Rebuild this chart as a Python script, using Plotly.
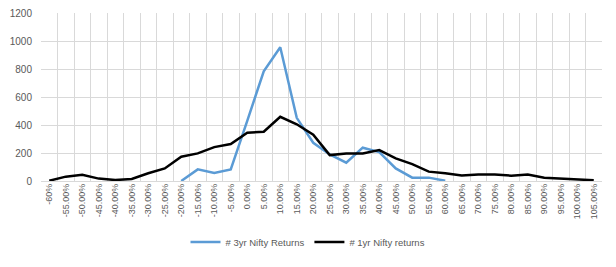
import plotly.graph_objects as go

categories = ["-60%"] + [f"{v:.2f}%" for v in range(-55, 110, 5)]

ret_3yr = [None, None, None, None, None, None, None, None,
           0, 83, 57, 83, 430, 784, 955, 451, 273, 190, 131, 238,
           207, 90, 24, 24, 2,
           None, None, None, None, None, None, None, None, None]

ret_1yr = [2, 31, 44, 17, 7, 14, 55, 90, 173, 197, 242, 264, 345, 352,
           459, 405, 330, 185, 197, 197, 221, 162, 121, 67, 55, 40, 47,
           47, 38, 47, 24, 17, 10, 5]

fig = go.Figure()
fig.add_trace(go.Scatter(x=categories, y=ret_3yr, mode="lines",
                         name="# 3yr Nifty Returns",
                         line=dict(color="#5B9BD5", width=2.5)))
fig.add_trace(go.Scatter(x=categories, y=ret_1yr, mode="lines",
                         name="# 1yr Nifty returns",
                         line=dict(color="#000000", width=2.5)))

fig.update_layout(
    width=616, height=267,
    margin=dict(l=41, r=14, t=13, b=86, autoexpand=False),
    paper_bgcolor="white", plot_bgcolor="white",
    font=dict(family="Liberation Sans, Arial, sans-serif", color="#595959", size=9),
    legend=dict(orientation="h", xref="container", yref="container",
                x=0.5, xanchor="center", y=0.094, yanchor="middle",
                font=dict(size=9.5, color="#595959"), itemwidth=30),
    showlegend=True,
)
fig.update_xaxes(type="category", tickson="boundaries", ticks="",
                 tickangle=-90, tickfont=dict(size=9), automargin=False,
                 showgrid=True, gridcolor="#D9D9D9", gridwidth=1,
                 showline=False, range=[-0.5, 33.5])
fig.update_yaxes(range=[0, 1200], dtick=200, tickfont=dict(size=10), automargin=False,
                 showgrid=True, gridcolor="#D9D9D9", gridwidth=1,
                 zeroline=True, zerolinecolor="#D9D9D9", zerolinewidth=1,
                 ticks="outside", ticklen=6, tickcolor="white")

fig.write_html("out.html")
